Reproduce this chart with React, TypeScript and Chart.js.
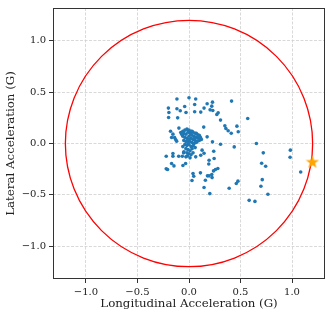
import React, { useEffect, useRef } from "react";
import { Chart, registerables } from "chart.js";

Chart.register(...registerables);

const AXIS_MIN = -1.32;
const AXIS_MAX = 1.32;
const TICKS = [-1.0, -0.5, 0.0, 0.5, 1.0];
const FRICTION_RADIUS = 1.2;
const X_TITLE = "Longitudinal Acceleration (G)";
const Y_TITLE = "Lateral Acceleration (G)";

const longG = [
  -0.117, 0.0, 0.065, -0.2, -0.195, -0.198, -0.117, -0.085, -0.042, 0.055,
  -0.029, 0.055, -0.11, 0.114, 0.176, 0.228, 0.221, 0.205, 0.231, 0.283,
  0.27, 0.306, 0.146, 0.413, 0.143, 0.348, 0.358, 0.38, 0.41, 0.465,
  0.478, 0.57, 0.654, 0.439, 0.306, 0.228, 0.176,
  -0.179, -0.156, -0.14, -0.169, -0.13, -0.12, -0.098, -0.08, -0.065,
  -0.221, -0.156, -0.156, -0.1, -0.065, -0.052, -0.016, 0.039, 0.065, 0.127,
  0.114, 0.146, 0.24, 0.244, 0.195, 0.192, -0.169, -0.146, -0.221, -0.208,
  -0.059, -0.033, 0.039, 0.046, 0.029, 0.111, 0.146, 0.159, 0.179, 0.195,
  0.221, 0.238, 0.257, 0.28, 0.224, 0.202, 0.39, 0.459, 0.475,
  0.584, 0.64, 0.766, 0.698, 0.711, 0.705, 0.744, 0.721, 0.984, 0.981, 1.084,
  -0.06, -0.04, -0.02, 0.0, 0.02, 0.04, 0.06, 0.08, 0.1, 0.11,
  -0.05, -0.03, -0.01, 0.01, 0.03, 0.05, 0.07, 0.09, -0.06, -0.04,
  -0.02, 0.0, 0.02, 0.04, 0.06, 0.08, 0.1, -0.05, -0.03, -0.01,
  0.01, 0.03, 0.05, 0.07, -0.04, -0.02, 0.0, 0.02, 0.04, 0.06,
  -0.03, -0.01, 0.01, 0.03, -0.05, -0.02, 0.0, 0.02, -0.03, 0.01,
  0.12, 0.09, -0.07, 0.0, 0.02, -0.01, 0.05, 0.03, 0.07, -0.06,
];
const latG = [
  0.433, 0.446, 0.433, 0.345, 0.302, 0.254, 0.338, 0.319, 0.361, 0.38,
  0.302, 0.309, 0.25, 0.306, 0.387, 0.403, 0.364, 0.328, 0.322, 0.299,
  0.283, 0.228, 0.345, 0.413, 0.16, 0.172, 0.146, 0.124, 0.1, 0.169,
  0.114, 0.244, 0.0, -0.033, -0.007, 0.016, 0.065,
  0.12, 0.091, 0.059, 0.059, 0.039, 0.023, 0.15, 0.107, 0.085,
  -0.124, -0.098, -0.124, -0.124, -0.124, -0.091, -0.121, -0.091, -0.13, -0.065,
  -0.114, -0.095, -0.075, -0.146, -0.163, -0.2, -0.195, -0.218, -0.247, -0.254,
  -0.215, -0.195, -0.293, -0.319, -0.361, -0.286, -0.429, -0.358, -0.315, -0.315,
  -0.302, -0.267, -0.254, -0.244, -0.332, -0.488, -0.436, -0.39, -0.367,
  -0.554, -0.564, -0.495, -0.417, -0.352, -0.192, -0.221, -0.091, -0.065, -0.134, -0.277,
  0.12, 0.13, 0.14, 0.13, 0.12, 0.11, 0.1, 0.09, 0.08, 0.06,
  0.1, 0.09, 0.11, 0.1, 0.08, 0.07, 0.06, 0.05, 0.07, 0.06,
  0.05, 0.07, 0.05, 0.04, 0.03, 0.02, 0.03, 0.03, 0.02, 0.03,
  0.02, 0.01, 0.0, 0.01, -0.01, -0.02, -0.01, -0.03, -0.02, -0.04,
  -0.05, -0.06, -0.07, -0.05, -0.08, -0.09, -0.1, -0.11, -0.13, -0.14,
  0.04, 0.07, 0.09, 0.04, 0.09, 0.0, 0.05, 0.12, 0.1, -0.03,
];

const STAR_LONG = [1.198];
const STAR_LAT = [-0.176];

function makeStar(size: number, color: string): HTMLCanvasElement {
  const c = document.createElement("canvas");
  c.width = size;
  c.height = size;
  const ctx = c.getContext("2d")!;
  const cx = size / 2;
  const cy = size / 2;
  const outer = size / 2;
  const inner = outer * 0.4;
  ctx.beginPath();
  for (let i = 0; i < 10; i++) {
    const r = i % 2 === 0 ? outer : inner;
    const a = -Math.PI / 2 + (i * Math.PI) / 5;
    const px = cx + r * Math.cos(a);
    const py = cy + r * Math.sin(a) + size * 0.05;
    if (i === 0) ctx.moveTo(px, py);
    else ctx.lineTo(px, py);
  }
  ctx.closePath();
  ctx.fillStyle = color;
  ctx.fill();
  return c;
}

const fmt = (v: number) => {
  const s = Math.abs(v).toFixed(1);
  return v < -1e-9 ? "\u2212" + s : s;
};

const gridOpts: any = {
  color: "#cfcfcf",
  lineWidth: 0.8,
  drawTicks: true,
  tickLength: 4,
  tickColor: "#333",
  tickBorderDash: [],
  tickWidth: 1,
};

export default function App() {
  const ref = useRef<HTMLCanvasElement>(null);
  useEffect(() => {
    if (!ref.current) return;
    const points = longG.map((x, i) => ({ x, y: latG[i] }));
    const star = STAR_LONG.map((x, i) => ({ x, y: STAR_LAT[i] }));
    const starImg = makeStar(14, "orange");

    const circlePlugin = {
      id: "frictionCircle",
      beforeDatasetsDraw(chart: any) {
        const { ctx, scales } = chart;
        const xs = scales.x;
        const ys = scales.y;
        const cx = xs.getPixelForValue(0);
        const cy = ys.getPixelForValue(0);
        const rx = Math.abs(xs.getPixelForValue(FRICTION_RADIUS) - cx);
        const ry = Math.abs(ys.getPixelForValue(FRICTION_RADIUS) - cy);
        ctx.save();
        ctx.beginPath();
        ctx.ellipse(cx, cy, rx, ry, 0, 0, Math.PI * 2);
        ctx.strokeStyle = "red";
        ctx.lineWidth = 1.3;
        ctx.stroke();
        ctx.restore();
      },
      afterDraw(chart: any) {
        const { ctx, chartArea: a } = chart;
        ctx.save();
        ctx.strokeStyle = "#333";
        ctx.lineWidth = 1;
        ctx.strokeRect(a.left + 0.5, a.top + 0.5, a.right - a.left - 1, a.bottom - a.top - 1);
        ctx.restore();
      },
    };

    const tickSet = (scale: any) => {
      scale.ticks = TICKS.map((v) => ({ value: v }));
    };

    const chart = new Chart(ref.current, {
      type: "scatter",
      data: {
        datasets: [
          {
            data: points,
            backgroundColor: "#1f77b4",
            borderColor: "#1f77b4",
            pointRadius: 1.8,
            borderWidth: 0,
          },
          {
            data: star,
            pointStyle: starImg as any,
            pointRadius: 7,
          },
        ],
      },
      options: {
        animation: false,
        responsive: false,
        maintainAspectRatio: false,
        layout: { padding: { left: 0, top: 6, right: 7, bottom: 8 } },
        plugins: { legend: { display: false }, tooltip: { enabled: false } },
        scales: {
          x: {
            type: "linear",
            min: AXIS_MIN,
            max: AXIS_MAX,
            afterBuildTicks: tickSet,
            afterFit: (s: any) => {
              s.height = 32;
              s.paddingLeft = 0;
              s.paddingRight = 0;
            },
            grid: gridOpts,
            border: { display: false, dash: [3, 1.5] } as any,
            ticks: {
              color: "#222",
              font: { family: "DejaVu Serif", size: 10 },
              padding: 3,
              maxRotation: 0,
              callback: (v: any) => fmt(Number(v)),
            },
            title: {
              display: true,
              text: X_TITLE,
              color: "#222",
              font: { family: "DejaVu Serif", size: 11.8 },
              padding: { top: 0, bottom: 0 },
            },
          },
          y: {
            type: "linear",
            min: AXIS_MIN,
            max: AXIS_MAX,
            afterBuildTicks: tickSet,
            afterFit: (s: any) => {
              s.width = 53;
              s.paddingTop = 0;
              s.paddingBottom = 0;
            },
            grid: gridOpts,
            border: { display: false, dash: [3, 1.5] } as any,
            ticks: {
              color: "#222",
              font: { family: "DejaVu Serif", size: 10 },
              padding: 3,
              callback: (v: any) => fmt(Number(v)),
            },
            title: {
              display: true,
              text: Y_TITLE,
              color: "#222",
              font: { family: "DejaVu Serif", size: 11.8 },
              padding: { top: 4, bottom: 0 },
            },
          },
        },
      },
      plugins: [circlePlugin],
    });
    return () => chart.destroy();
  }, []);

  return (
    <div style={{ position: "fixed", left: 0, top: 0, width: 333, height: 319, background: "#fff" }}>
      <canvas ref={ref} width={333} height={319} style={{ width: 333, height: 319 }} />
    </div>
  );
}
